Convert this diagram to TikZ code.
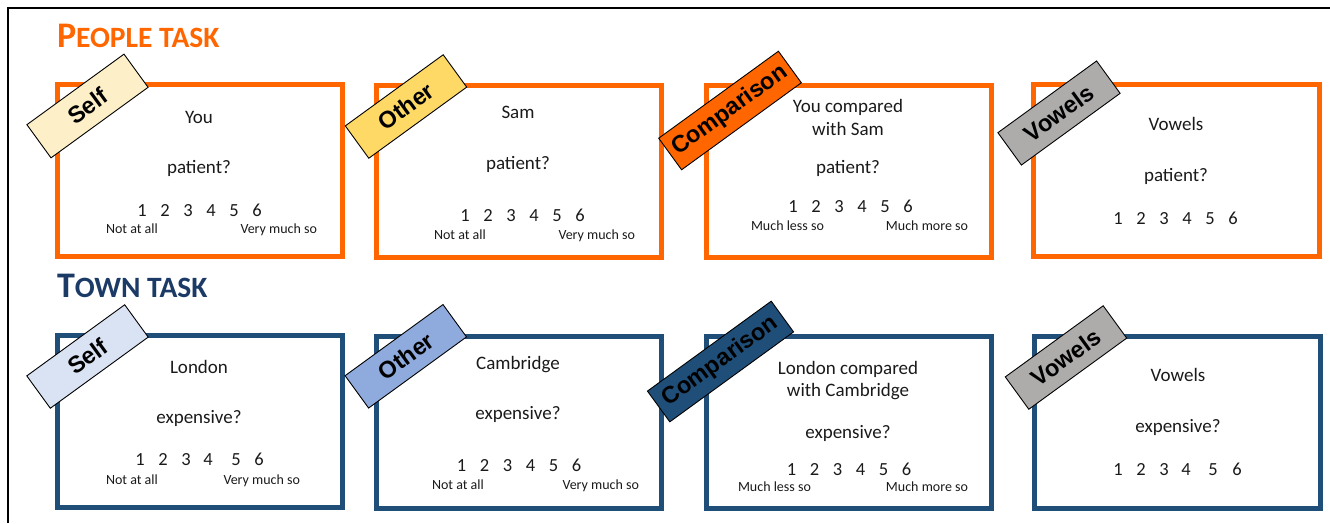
\documentclass[tikz,border=0pt]{standalone}
\usepackage{fontspec}
\setmainfont{Carlito}
\newfontfamily\tagfont{Liberation Sans}
\definecolor{porange}{HTML}{FF6600}
\definecolor{tnavy}{HTML}{1F4E79}
\definecolor{ttitle}{HTML}{1B3A66}
\definecolor{txt}{HTML}{1A1A1A}
\definecolor{fself}{HTML}{FDF0C8}
\definecolor{fother}{HTML}{FFD966}
\definecolor{fvowel}{HTML}{AEABAB}
\definecolor{tself}{HTML}{DAE3F3}
\definecolor{tother}{HTML}{8FAADC}
\newcommand{\dg}[1]{\hspace{#1pt}}
\begin{document}
\begin{tikzpicture}[x=1pt,y=-1pt,
  every node/.style={inner sep=0pt, outer sep=0pt},
  pbox/.style={draw=porange, line width=5pt, minimum width=285pt, minimum height=172pt},
  tbox/.style={draw=tnavy, line width=5pt, minimum width=285pt, minimum height=172pt},
  tagbox/.style={draw=black, line width=0.9pt, rotate=36, minimum height=40pt,
     font=\tagfont\bfseries\fontsize{23.5}{23.5}\selectfont, text=black},
  qtext/.style={font=\fontsize{19}{22}\selectfont, text=txt, anchor=base},
  scl/.style={font=\fontsize{14}{16}\selectfont, text=txt},
  nums/.style={font=\fontsize{18.5}{22}\selectfont, text=txt, anchor=base},
  ttl/.style={anchor=base west, font=\bfseries}
]
\useasboundingbox (0,0) rectangle (1330,523);
% outer frame
\coordinate (fa) at (8,523);
\coordinate (fb) at (8,8);
\coordinate (fc) at (1330,8);
\draw[line width=2pt, black] (fa) -- (fb) -- (fc);

% titles
\node[ttl, text=porange] (ptitle) at (57,47) {\fontsize{36}{36}\selectfont P\fontsize{29.5}{29.5}\selectfont EOPLE TASK};
\node[ttl, text=ttitle] (ttitle) at (57,297) {\fontsize{36}{36}\selectfont T\fontsize{29.5}{29.5}\selectfont OWN TASK};

% boxes
\node[pbox] (p1) at (199.5,170) {};
\node[pbox] (p2) at (518.5,171) {};
\node[pbox] (p3) at (848.5,171) {};
\node[pbox, minimum width=286pt] (p4) at (1176,170) {};
\node[tbox] (t1) at (199.5,421) {};
\node[tbox] (t2) at (518.5,422) {};
\node[tbox] (t3) at (848.5,422) {};
\node[tbox, minimum width=286pt] (t4) at (1177,422) {};

% people texts
\node[qtext] (p1a) at (199,123) {You};
\node[qtext] (p1b) at (199,173) {patient?};
\node[nums] (p1n) at (199.5,216) {1\dg{13.6}2\dg{13.6}3\dg{13.6}4\dg{13.6}5\dg{13.6}6};
\node[scl, anchor=base west] (p1l) at (106,233) {Not at all};
\node[scl, anchor=base east] (p1r) at (317,233) {Very much so};

\node[qtext] (p2a) at (518,118.3) {Sam};
\node[qtext] (p2b) at (518,169.3) {patient?};
\node[nums] (p2n) at (522.5,221) {1\dg{13.6}2\dg{13.6}3\dg{13.6}4\dg{13.6}5\dg{13.6}6};
\node[scl, anchor=base west] (p2l) at (434,239) {Not at all};
\node[scl, anchor=base east] (p2r) at (635,239) {Very much so};

\node[qtext] (p3a) at (848,112.3) {You compared};
\node[qtext] (p3b) at (848,135) {with Sam};
\node[qtext] (p3c) at (848,173.3) {patient?};
\node[nums] (p3n) at (850.5,212.7) {1\dg{13.6}2\dg{13.6}3\dg{13.6}4\dg{13.6}5\dg{13.6}6};
\node[scl, anchor=base west] (p3l) at (751,230.7) {Much less so};
\node[scl, anchor=base east] (p3r) at (968,230.7) {Much more so};

\node[qtext] (p4a) at (1176,130.7) {Vowels};
\node[qtext] (p4b) at (1176,181.7) {patient?};
\node[nums] (p4n) at (1175.5,224) {1\dg{13.6}2\dg{13.6}3\dg{13.6}4\dg{13.6}5\dg{13.6}6};

% town texts
\node[qtext] (t1a) at (199,373.3) {London};
\node[qtext] (t1b) at (199,423.3) {expensive?};
\node[nums] (t1n) at (199.5,465.7) {1\dg{13.6}2\dg{13.6}3\dg{12.6}4\dg{18.6}5\dg{13.6}6};
\node[scl, anchor=base west] (t1l) at (106,484) {Not at all};
\node[scl, anchor=base east] (t1r) at (300,484) {Very much so};

\node[qtext] (t2a) at (518,369) {Cambridge};
\node[qtext] (t2b) at (518,419.3) {expensive?};
\node[nums] (t2n) at (519,471.7) {1\dg{13.6}2\dg{13.6}3\dg{13.6}4\dg{13.6}5\dg{13.6}6};
\node[scl, anchor=base west] (t2l) at (432,489.3) {Not at all};
\node[scl, anchor=base east] (t2r) at (639,489.3) {Very much so};

\node[qtext] (t3a) at (848,374) {London compared};
\node[qtext] (t3b) at (848,396.7) {with Cambridge};
\node[qtext] (t3c) at (848,438.3) {expensive?};
\node[nums] (t3n) at (849,475) {1\dg{13.6}2\dg{13.6}3\dg{13.6}4\dg{13.6}5\dg{13.6}6};
\node[scl, anchor=base west] (t3l) at (738,491.7) {Much less so};
\node[scl, anchor=base east] (t3r) at (968,491.7) {Much more so};

\node[qtext] (t4a) at (1178,381.7) {Vowels};
\node[qtext] (t4b) at (1178,432.7) {expensive?};
\node[nums] (t4n) at (1177.5,475) {1\dg{13.6}2\dg{13.6}3\dg{12.6}4\dg{17.6}5\dg{14.6}6};

% tags
\node[tagbox, fill=fself, minimum width=120pt, minimum height=41pt] (pS) at (87.5,106) {Self};
\node[tagbox, fill=fother, minimum width=121pt] (pO) at (406,106.5) {Other};
\node[tagbox, fill=porange, minimum width=148pt, minimum height=39pt] (pC) at (730,110.5) {Comparison};
\node[tagbox, fill=fvowel, minimum width=122pt] (pV) at (1059,113) {Vowels};
\node[tagbox, fill=tself, minimum width=121pt] (tS) at (87.5,356.5) {Self};
\node[tagbox, fill=tother, minimum width=121pt] (tO) at (405.8,356.3) {Other};
\node[tagbox, fill=tnavy, minimum width=153pt, minimum height=38pt] (tC) at (720.5,361.5) {Comparison};
\node[tagbox, fill=fvowel, minimum width=121pt] (tV) at (1066,357.5) {Vowels};
\end{tikzpicture}
\end{document}
